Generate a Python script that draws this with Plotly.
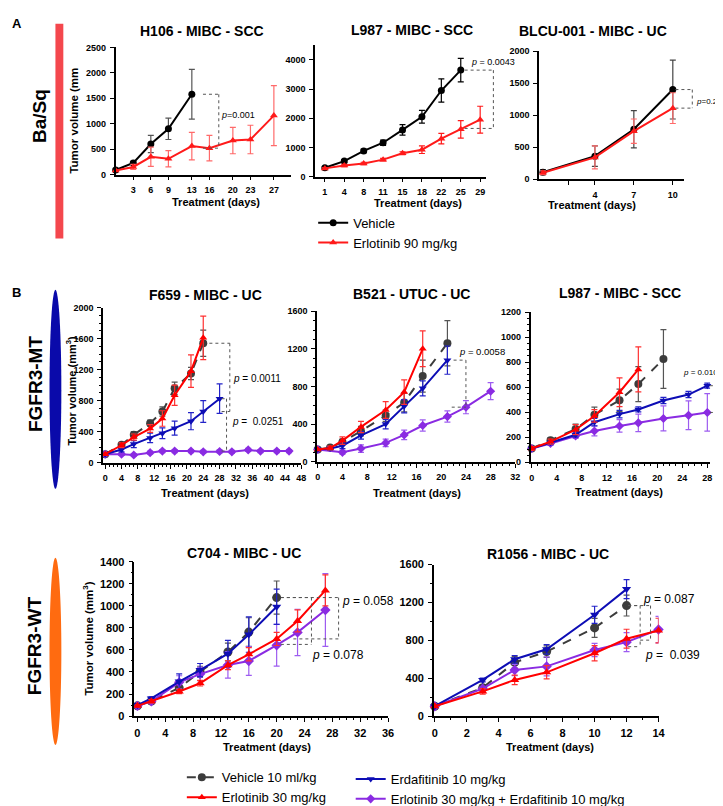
import plotly.graph_objects as go

# ======================= DATA =======================
# ---- Panel A : H106 - MIBC - SCC ----
h106_veh_days = [0, 3, 6, 9, 13]
h106_veh = [90, 230, 600, 900, 1580]
h106_veh_err = [20, 30, 170, 210, 490]
h106_erl_days = [0, 3, 6, 9, 13, 16, 20, 23, 27]
h106_erl = [80, 150, 350, 310, 560, 520, 670, 690, 1160]
h106_erl_err = [20, 50, 190, 160, 270, 250, 260, 280, 590]
h106_xticks = [3, 6, 9, 13, 16, 20, 23, 27]

# ---- Panel A : L987 - MIBC - SCC (categorical days) ----
l987a_veh_days = ["1", "4", "8", "11", "15", "18", "22", "25"]
l987a_veh = [300, 530, 880, 1160, 1600, 2050, 2950, 3650]
l987a_veh_err = [40, 50, 60, 90, 180, 220, 400, 400]
l987a_erl_days = ["1", "4", "8", "11", "15", "18", "22", "25", "29"]
l987a_erl = [280, 380, 450, 580, 800, 920, 1300, 1620, 1950]
l987a_erl_err = [30, 40, 40, 40, 50, 130, 180, 300, 460]

# ---- Panel A : BLCU-001 - MIBC - UC ----
blcu_days = [0, 4, 7, 10]
blcu_veh = [110, 360, 780, 1400]
blcu_veh_err = [40, 160, 290, 460]
blcu_erl = [100, 340, 750, 1110]
blcu_erl_err = [30, 180, 190, 240]
blcu_xticks = [2, 4, 7, 10]
blcu_xticktext = [" ", "4", "7", "10"]

# ---- Panel B : F659 - MIBC - UC ----
f659_veh_days = [0, 4, 7, 11, 14, 17, 21, 24]
f659_veh = [110, 230, 360, 510, 660, 960, 1150, 1540]
f659_veh_err = [15, 30, 40, 40, 60, 80, 80, 170]
f659_erl_days = [0, 4, 7, 11, 14, 17, 21, 24]
f659_erl = [110, 225, 330, 440, 570, 870, 1180, 1610]
f659_erl_err = [15, 30, 40, 50, 100, 130, 210, 280]
f659_erd_days = [0, 4, 7, 11, 14, 17, 21, 24, 28]
f659_erd = [110, 170, 240, 320, 380, 445, 535, 660, 825]
f659_erd_err = [15, 30, 45, 60, 70, 90, 110, 140, 190]
f659_cmb_days = [0, 4, 7, 11, 14, 17, 21, 24, 28, 31, 35, 38, 42, 45]
f659_cmb = [110, 110, 100, 130, 150, 150, 150, 140, 145, 140, 165, 150, 150, 150]
f659_cmb_err = [10, 15, 15, 20, 20, 20, 20, 20, 20, 20, 20, 20, 20, 20]

# ---- Panel B : B521 - UTUC - UC ----
b521_veh_days = [0, 2, 4, 7, 11, 14, 17, 21]
b521_veh = [130, 150, 210, 325, 490, 630, 910, 1260]
b521_veh_err = [10, 20, 30, 50, 60, 100, 170, 240]
b521_erl_days = [0, 2, 4, 7, 11, 14, 17]
b521_erl = [130, 145, 225, 370, 550, 740, 1200]
b521_erl_err = [10, 20, 40, 60, 90, 130, 190]
b521_erd_days = [0, 2, 4, 7, 11, 14, 17, 21]
b521_erd = [130, 140, 170, 280, 400, 590, 780, 1080]
b521_erd_err = [10, 20, 30, 40, 50, 70, 80, 150]
b521_cmb_days = [0, 4, 7, 11, 14, 17, 21, 24, 28]
b521_cmb = [130, 100, 140, 200, 285, 385, 480, 580, 750]
b521_cmb_err = [10, 20, 40, 40, 50, 60, 60, 70, 90]

# ---- Panel B : L987 - MIBC - SCC ----
l987b_veh_days = [0, 3, 7, 10, 14, 17, 21]
l987b_veh = [110, 175, 265, 380, 495, 625, 825]
l987b_veh_err = [15, 20, 40, 60, 90, 140, 235]
l987b_erl_days = [0, 3, 7, 10, 14, 17]
l987b_erl = [110, 165, 260, 370, 560, 742]
l987b_erl_err = [15, 20, 40, 50, 115, 180]
l987b_erd_days = [0, 3, 7, 10, 14, 17, 21, 25, 28]
l987b_erd = [110, 155, 220, 320, 385, 422, 494, 541, 612]
l987b_erd_err = [10, 15, 20, 30, 30, 20, 25, 25, 20]
l987b_cmb_days = [0, 3, 7, 10, 14, 17, 21, 25, 28]
l987b_cmb = [110, 150, 210, 250, 290, 315, 350, 375, 398]
l987b_cmb_err = [10, 15, 20, 40, 50, 70, 100, 115, 150]

# ---- Panel B : C704 - MIBC - UC ----
c704_veh_days = [0, 2, 6, 9, 13, 16, 20]
c704_veh = [93, 137, 256, 402, 581, 762, 1075]
c704_veh_err = [10, 20, 40, 50, 80, 130, 150]
c704_erl_days = [0, 2, 6, 9, 13, 16, 20, 23, 27]
c704_erl = [93, 134, 223, 298, 462, 560, 700, 863, 1140]
c704_erl_err = [10, 15, 20, 25, 40, 60, 60, 100, 140]
c704_erd_days = [0, 2, 6, 9, 13, 16, 20]
c704_erd = [100, 160, 313, 417, 566, 739, 991]
c704_erd_err = [10, 15, 70, 60, 120, 160, 160]
c704_cmb_days = [0, 2, 6, 9, 13, 16, 20, 23, 27]
c704_cmb = [93, 134, 306, 381, 464, 500, 643, 759, 962]
c704_cmb_err = [10, 15, 60, 60, 120, 130, 190, 210, 330]

# ---- Panel B : R1056 - MIBC - UC ----
r1056_veh_days = [0, 3, 5, 7, 10, 12]
r1056_veh = [104, 299, 567, 681, 931, 1167]
r1056_veh_err = [10, 30, 60, 60, 100, 110]
r1056_erl_days = [0, 3, 5, 7, 10, 12, 14]
r1056_erl = [104, 261, 382, 462, 664, 817, 903]
r1056_erl_err = [10, 30, 50, 70, 80, 100, 130]
r1056_erd_days = [0, 3, 5, 7, 10, 12]
r1056_erd = [104, 382, 600, 705, 1070, 1341]
r1056_erd_err = [10, 20, 40, 50, 90, 100]
r1056_cmb_days = [0, 3, 5, 7, 10, 12, 14]
r1056_cmb = [104, 290, 487, 525, 698, 781, 914]
r1056_cmb_err = [10, 20, 60, 100, 70, 100, 140]

panel_titles = ["H106 - MIBC - SCC", "L987 - MIBC - SCC", "BLCU-001 - MIBC - UC",
                "F659 - MIBC - UC", "B521 - UTUC - UC", "L987 - MIBC - SCC",
                "C704 - MIBC - UC", "R1056 - MIBC - UC"]
legend_a = ["Vehicle", "Erlotinib 90 mg/kg"]
legend_b = ["Vehicle 10 ml/kg", "Erlotinib 30 mg/kg", "Erdafitinib 10 mg/kg",
            "Erlotinib 30 mg/kg + Erdafitinib 10 mg/kg"]

# ======================= STYLE / LAYOUT =======================
W, H = 723, 806
FONT = "Arial, Liberation Sans, sans-serif"
NARROW = "Arial Narrow, Liberation Sans Narrow, Arial, Liberation Sans, sans-serif"

C_BLACK = "#000000"
C_RED_A = "#FF1A1A"
C_VEH = "#3C3C3C"
C_RED = "#FF0000"
C_BLUE = "#0D0DB5"
C_PURP = "#8A2BE2"


def fx(p):
    return p / W


def fy(p):
    return 1 - p / H


fig = go.Figure()
layout = dict(width=W, height=H, margin=dict(l=0, r=0, t=0, b=0),
              paper_bgcolor="white", plot_bgcolor="rgba(0,0,0,0)",
              font=dict(family=FONT, color="black"))
annotations = []
shapes = []

# panel geometry (pixels) : x-axis span, y-axis span (bottom, top)
panels = {
    1: dict(xpx=(107, 285), ypx=(163, 34), xr=[0, 30], yr=[0, 2500]),
    2: dict(xpx=(309, 482), ypx=(165, 31.8), xr=[-0.5, 8.3], yr=[0, 4500]),
    3: dict(xpx=(535.7, 683), ypx=(167.7, 37.7), xr=[-0.3, 10.9], yr=[0, 2000]),
    4: dict(xpx=(94.3, 295), ypx=(455.5, 298), xr=[-0.5, 48], yr=[0, 2000]),
    5: dict(xpx=(311, 511.7), ypx=(454.5, 301.7), xr=[-0.1, 32], yr=[0, 1600]),
    6: dict(xpx=(527.3, 709), ypx=(455, 302.7), xr=[-0.15, 28.45], yr=[0, 1200]),
    7: dict(xpx=(126, 382.8), ypx=(712.7, 556), xr=[-0.43, 36], yr=[0, 1400]),
    8: dict(xpx=(429.3, 656.7), ypx=(712.7, 558.9), xr=[-0.05, 14], yr=[0, 1600]),
}


def axname(n, a):
    return a if n == 1 else f"{a}{n}"


def base_axis(size, family):
    return dict(showline=True, linecolor="black", linewidth=1.6, ticks="outside",
                ticklen=4, tickwidth=1.4, tickcolor="black", showgrid=False,
                zeroline=False, ticklabelstandoff=2,
                tickfont=dict(family=family, size=size, color="black", weight="bold"))


def minor(d):
    return dict(dtick=d, ticklen=2, ticks="outside", tickcolor="black")


tick_cfg = {
    1: (dict(tickmode="array", tickvals=h106_xticks), dict(dtick=500, tick0=0), 9, FONT),
    2: (dict(type="category", categoryorder="array", categoryarray=l987a_erl_days), dict(dtick=1000, tick0=0), 9, FONT),
    3: (dict(tickmode="array", tickvals=blcu_xticks, ticktext=blcu_xticktext), dict(dtick=500, tick0=0), 9, FONT),
    4: (dict(dtick=4, tick0=0, minor=minor(1)), dict(dtick=400, tick0=0, minor=minor(100)), 9, NARROW),
    5: (dict(dtick=4, tick0=0, minor=minor(1)), dict(dtick=400, tick0=0, minor=minor(100)), 9, NARROW),
    6: (dict(dtick=4, tick0=0, minor=minor(1)), dict(dtick=200, tick0=0, minor=minor(50)), 9, NARROW),
    7: (dict(dtick=4, tick0=0, minor=minor(1)), dict(dtick=200, tick0=0, minor=minor(100)), 11, FONT),
    8: (dict(dtick=2, tick0=0, minor=minor(1)), dict(dtick=400, tick0=0, minor=minor(200)), 11, FONT),
}

for n, p in panels.items():
    xc, yc, fs, fam = tick_cfg[n]
    xa = base_axis(fs, fam)
    xa.update(domain=[fx(p["xpx"][0]), fx(p["xpx"][1])], range=p["xr"],
              anchor=axname(n, "y"))
    xa.update(xc)
    ya = base_axis(fs, fam)
    ya.update(domain=[fy(p["ypx"][0]), fy(p["ypx"][1])], range=p["yr"],
              anchor=axname(n, "x"))
    ya.update(yc)
    layout["xaxis" if n == 1 else f"xaxis{n}"] = xa
    layout["yaxis" if n == 1 else f"yaxis{n}"] = ya


def add_series(n, x, y, err, color, symbol, msize, dash="solid", ecolor=None,
               name=None, legend=None, lw=2.0):
    fig.add_trace(go.Scatter(
        x=x, y=y, mode="lines+markers",
        xaxis=axname(n, "x"), yaxis=axname(n, "y"),
        line=dict(color=color, width=lw, dash=dash),
        marker=dict(symbol=symbol, size=msize, color=color),
        error_y=dict(type="data", array=err, color=ecolor or color, thickness=1.2, width=3),
        name=name, showlegend=legend is not None,
        legend=legend if legend else "legend", cliponaxis=False))


# ---- Panel A traces ----
add_series(1, h106_veh_days, h106_veh, h106_veh_err, C_BLACK, "circle", 7,
           ecolor="#555555", name=legend_a[0], legend="legend")
add_series(1, h106_erl_days, h106_erl, h106_erl_err, C_RED_A, "triangle-up", 7,
           ecolor="#FF6A6A", name=legend_a[1], legend="legend")
add_series(2, l987a_veh_days, l987a_veh, l987a_veh_err, C_BLACK, "circle", 7)
add_series(2, l987a_erl_days, l987a_erl, l987a_erl_err, C_RED_A, "triangle-up", 7)
add_series(3, blcu_days, blcu_veh, blcu_veh_err, C_BLACK, "circle", 7, ecolor="#444444")
add_series(3, blcu_days, blcu_erl, blcu_erl_err, C_RED_A, "triangle-up", 7, ecolor="#FF6A6A")

# ---- Panel B traces ----
bsets = {
    4: (f659_veh_days, f659_veh, f659_veh_err, f659_erl_days, f659_erl, f659_erl_err,
        f659_erd_days, f659_erd, f659_erd_err, f659_cmb_days, f659_cmb, f659_cmb_err),
    5: (b521_veh_days, b521_veh, b521_veh_err, b521_erl_days, b521_erl, b521_erl_err,
        b521_erd_days, b521_erd, b521_erd_err, b521_cmb_days, b521_cmb, b521_cmb_err),
    6: (l987b_veh_days, l987b_veh, l987b_veh_err, l987b_erl_days, l987b_erl, l987b_erl_err,
        l987b_erd_days, l987b_erd, l987b_erd_err, l987b_cmb_days, l987b_cmb, l987b_cmb_err),
    7: (c704_veh_days, c704_veh, c704_veh_err, c704_erl_days, c704_erl, c704_erl_err,
        c704_erd_days, c704_erd, c704_erd_err, c704_cmb_days, c704_cmb, c704_cmb_err),
    8: (r1056_veh_days, r1056_veh, r1056_veh_err, r1056_erl_days, r1056_erl, r1056_erl_err,
        r1056_erd_days, r1056_erd, r1056_erd_err, r1056_cmb_days, r1056_cmb, r1056_cmb_err),
}
for n, d in bsets.items():
    first = n == 4
    ms = 7 if n <= 6 else 8
    add_series(n, d[0], d[1], d[2], C_VEH, "circle", ms + 1, dash="dash", ecolor="#555555",
               name=legend_b[0], legend="legend2" if first else None)
    add_series(n, d[9], d[10], d[11], C_PURP, "diamond", ms, ecolor="#9D5CF0",
               name=legend_b[3], legend="legend3" if first else None)
    add_series(n, d[6], d[7], d[8], C_BLUE, "triangle-down", ms, ecolor="#2323C8",
               name=legend_b[2], legend="legend3" if first else None)
    add_series(n, d[3], d[4], d[5], C_RED, "triangle-up", ms, ecolor="#FF3030",
               name=legend_b[1], legend="legend2" if first else None)

# ---- legends ----
layout["legend"] = dict(x=fx(307), y=fy(222), xanchor="left", yanchor="middle",
                        font=dict(size=13, family=FONT), bgcolor="rgba(0,0,0,0)",
                        traceorder="normal", tracegroupgap=0)
layout["legend2"] = dict(x=fx(174), y=fy(785), xanchor="left", yanchor="middle",
                         font=dict(size=13, family=FONT), bgcolor="rgba(0,0,0,0)",
                         traceorder="normal", tracegroupgap=0)
layout["legend3"] = dict(x=fx(345), y=fy(787), xanchor="left", yanchor="middle",
                         font=dict(size=13, family=FONT), bgcolor="rgba(0,0,0,0)",
                         traceorder="reversed", tracegroupgap=0)


# ---- text helpers ----
def text(t, x, y, size, bold=True, angle=0, xanchor="center", family=FONT, color="black"):
    annotations.append(dict(text=t, x=fx(x), y=fy(y), xref="paper", yref="paper",
                            showarrow=False, textangle=angle, xanchor=xanchor, yanchor="middle",
                            borderpad=0,
                            font=dict(size=size, family=family, color=color,
                                      weight="bold" if bold else "normal")))


title_pos = [(194, 17), (407, 16), (590, 17), (198, 285), (407, 284), (618, 283), (237, 547), (545, 548)]
for t, (x, y) in zip(panel_titles, title_pos):
    text(t, x, y, 14)

xlab_pos = [(209, 191), (413, 192), (589, 194), (197, 486), (412, 486), (617, 485), (260, 744), (547, 744)]
for x, y in xlab_pos:
    text("Treatment (days)", x, y, 11)

text("Tumor volume (mm", 65, 108, 11.5, angle=-90)
text("Tumor volume (mm<sup>3</sup>)", 62, 382, 11, angle=-90)
text("Tumor volume (mm<sup>3</sup>)", 79, 634, 11.5, angle=-90)

text("A", 7, 10, 13)
text("B", 7, 283, 13)
text("Ba/Sq", 30, 104, 19, angle=-90)
text("FGFR3-MT", 26, 376, 19, angle=-90)
text("FGFR3-WT", 25, 641, 19, angle=-90)

# colored side markers
shapes.append(dict(type="rect", xref="paper", yref="paper", x0=fx(46), x1=fx(54), y0=fy(228), y1=fy(10),
                   fillcolor="#F4474D", line=dict(width=0)))
shapes.append(dict(type="circle", xref="paper", yref="paper", x0=fx(40), x1=fx(52), y0=fy(482), y1=fy(280),
                   fillcolor="#0A0AAA", line=dict(width=0)))
shapes.append(dict(type="circle", xref="paper", yref="paper", x0=fx(40), x1=fx(52), y0=fy(742), y1=fy(552),
                   fillcolor="#FF6B10", line=dict(width=0)))


# ---- p-value brackets (in axis-domain fractions) ----
def dfrac(v, r):
    return (v - r[0]) / (r[1] - r[0])


def bracket(n, x1, x2, ytop, ybot, x1b=None):
    p = panels[n]
    xr, yr = p["xr"], p["yr"]
    xref = f"{axname(n, 'x')} domain"
    yref = f"{axname(n, 'y')} domain"
    if x1b is None:
        x1b = x1
    ln = dict(color="#555555", width=1, dash="dot")
    for (a0, b0, a1, b1) in [(x1, ytop, x2, ytop), (x2, ytop, x2, ybot), (x1b, ybot, x2, ybot)]:
        shapes.append(dict(type="line", xref=xref, yref=yref,
                           x0=dfrac(a0, xr), y0=dfrac(b0, yr), x1=dfrac(a1, xr), y1=dfrac(b1, yr),
                           line=ln))


bracket(1, 14.9, 17.6, h106_veh[-1], 520)
bracket(2, 7.2, 8.68, l987a_veh[-1], 1650)
bracket(3, 10.2, 11.5, blcu_veh[-1], blcu_erl[-1])
bracket(4, 25.5, 30.5, f659_veh[-1], 660, x1b=28.5)
bracket(4, 28.5, 29.7, f659_erd[-1], 150)
bracket(5, 22.0, 24.0, b521_erd[-1], 580, x1b=21.7)
bracket(6, 28.4, 30.6, l987b_erd[-1], l987b_cmb[-1])
bracket(7, 20.6, 25.0, c704_veh[-1], 650)
bracket(7, 20.6, 28.9, c704_veh[-1], 700, x1b=22.4)
bracket(8, 12.1, 12.85, r1056_veh[-1], 733)
bracket(8, 12.1, 13.5, r1056_veh[-1], 802, x1b=12.85)

pv = [("<i>p</i>=0.001", 213, 103, 9, FONT),
      ("<i>p</i> = 0.0043", 466, 49, 9, FONT),
      ("<i>p</i>=0.24", 694, 89, 8, FONT),
      ("<i>p</i> = 0.0011", 225, 370, 10, FONT),
      ("<i>p</i> =  0.0251", 224, 414, 10, FONT),
      ("<i>p</i> = 0.0058", 454, 343, 9.5, NARROW),
      ("<i>p</i> = 0.0107", 680, 364, 8, NARROW),
      ("<i>p</i> = 0.058", 335, 596, 12, FONT),
      ("<i>p</i> = 0.078", 305, 651, 12, FONT),
      ("<i>p</i> = 0.087", 640, 594, 12, FONT),
      ("<i>p</i> =  0.039", 642, 651, 12, FONT)]
for t, x, y, s, fam in pv:
    text(t, x, y, s, bold=False, xanchor="left", family=fam)

layout["annotations"] = annotations
layout["shapes"] = shapes
fig.update_layout(**layout)
fig.write_html("out.html")
